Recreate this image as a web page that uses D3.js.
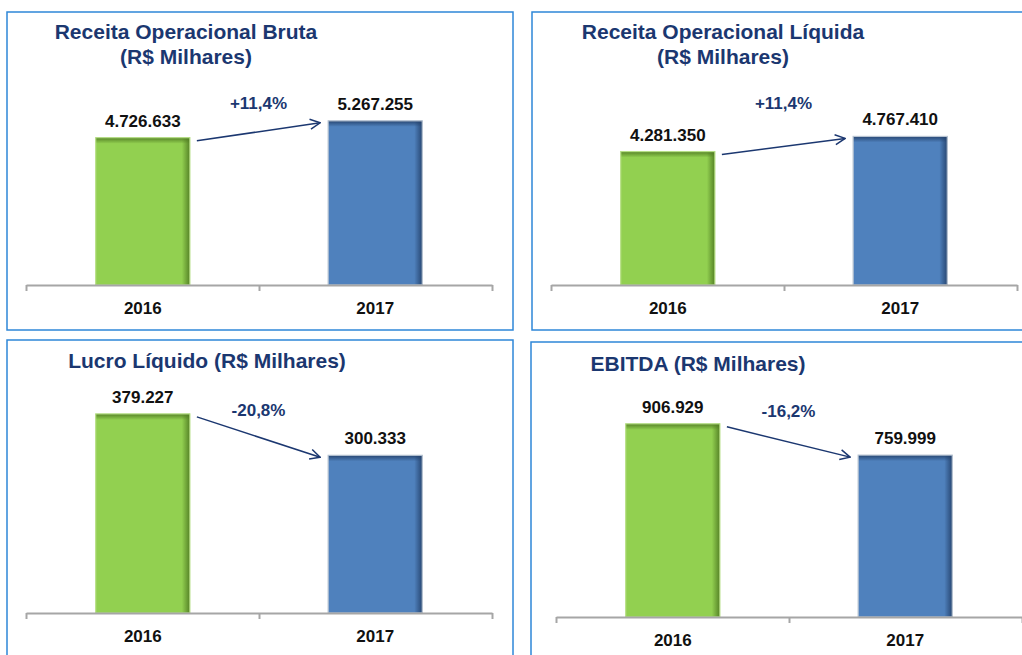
<!DOCTYPE html>
<html>
<head>
<meta charset="utf-8">
<script src="https://cdn.jsdelivr.net/npm/d3@7"></script>
<style>
  body { margin: 0; background: #fff; }
  svg { display: block; font-family: "Liberation Sans", Arial, sans-serif; }
</style>
</head>
<body>
<div id="chart"></div>
<script>
// data
var years = ['2016', '2017'];
var titles = [
    ['Receita Operacional Bruta', '(R$ Milhares)'],
    ['Receita Operacional Líquida', '(R$ Milhares)'],
    ['Lucro Líquido (R$ Milhares)'],
    ['EBITDA (R$ Milhares)']
];
var values2016 = [4726633, 4281350, 379227, 906929];
var values2017 = [5267255, 4767410, 300333, 759999];
var changes = ['+11,4%', '+11,4%', '-20,8%', '-16,2%'];
var yMax = [6000000, 6000000, 400000, 1000000];

// panel layout (boxes, plot areas, title positions)
var panels = [
    {box: [7, 12, 506, 318], x0: 26, x1: 492, base: 285, top: 98, tx: 186, ty: 39},
    {box: [532, 12, 520, 318], x0: 551, x1: 1017, base: 285, top: 98, tx: 723, ty: 39},
    {box: [7, 340, 506, 330], x0: 26, x1: 492, base: 613, top: 403, tx: 207, ty: 368},
    {box: [531, 342, 520, 330], x0: 556, x1: 1022, base: 617, top: 404, tx: 698, ty: 371}
];

var navy = '#1b3770';
var barColors = {'2016': '#92d050', '2017': '#4f81bd'};
var edgeColors = {'2016': '#4f7a22', '2017': '#23406a'};
var rimColors = {'2016': '#b5de85', '2017': '#b8c4d2'};

var width = 1022, height = 655;

var svg = d3.select("#chart")
    .append("svg")
    .attr("width", width)
    .attr("height", height);

var defs = svg.append("defs");

// gradients for the darker inner edges of the bars
years.forEach(function(yr){
    var gr = defs.append("linearGradient").attr("id", "right" + yr)
        .attr("x1", "0").attr("x2", "1").attr("y1", "0").attr("y2", "0");
    gr.append("stop").attr("offset", "0%").attr("stop-color", edgeColors[yr]).attr("stop-opacity", 0);
    gr.append("stop").attr("offset", "100%").attr("stop-color", edgeColors[yr]).attr("stop-opacity", 0.9);

    var gt = defs.append("linearGradient").attr("id", "top" + yr)
        .attr("x1", "0").attr("x2", "0").attr("y1", "0").attr("y2", "1");
    gt.append("stop").attr("offset", "0%").attr("stop-color", edgeColors[yr]).attr("stop-opacity", 0.9);
    gt.append("stop").attr("offset", "100%").attr("stop-color", edgeColors[yr]).attr("stop-opacity", 0);
});

defs.append("marker")
    .attr("id", "arrowhead")
    .attr("viewBox", "0 0 12 12")
    .attr("refX", 11).attr("refY", 6)
    .attr("markerWidth", 12).attr("markerHeight", 12)
    .attr("markerUnits", "userSpaceOnUse")
    .attr("orient", "auto")
    .append("path")
    .attr("d", "M1,1 L11,6 L1,11")
    .attr("fill", "none")
    .attr("stroke", navy)
    .attr("stroke-width", 1.5);

panels.forEach(function(p, i){
    drawPanel(p, i);
});

function fmt(v){
    return d3.format(",")(v).replace(/,/g, ".");
}

function drawPanel(p, i){
    var g = svg.append("g");

    // frame
    g.append("rect")
        .attr("x", p.box[0]).attr("y", p.box[1])
        .attr("width", p.box[2]).attr("height", p.box[3])
        .attr("fill", "none")
        .attr("stroke", "#2e87d8")
        .attr("stroke-width", 1.5);

    // title
    var title = g.append("text")
        .attr("x", p.tx).attr("y", p.ty)
        .attr("text-anchor", "middle")
        .style("font-size", "21px")
        .style("font-weight", "bold")
        .style("fill", navy);
    titles[i].forEach(function(line, k){
        title.append("tspan")
            .attr("x", p.tx)
            .attr("dy", k == 0 ? 0 : 25)
            .text(line);
    });

    var data = [
        {year: years[0], value: values2016[i]},
        {year: years[1], value: values2017[i]}
    ];

    var x = d3.scaleBand()
        .domain(years)
        .range([p.x0, p.x1])
        .paddingInner(0.595)
        .paddingOuter(0.3);

    var y = d3.scaleLinear()
        .domain([0, yMax[i]])
        .range([p.base, p.top]);

    // bars
    var bars = g.selectAll(".bar")
        .data(data)
        .enter()
        .append("g");

    bars.append("rect")
        .attr("x", function(d){ return x(d.year); })
        .attr("y", function(d){ return y(d.value); })
        .attr("width", x.bandwidth())
        .attr("height", function(d){ return y(0) - y(d.value); })
        .attr("fill", function(d){ return barColors[d.year]; });

    bars.append("rect")
        .attr("x", function(d){ return x(d.year) + x.bandwidth() - 8; })
        .attr("y", function(d){ return y(d.value); })
        .attr("width", 8)
        .attr("height", function(d){ return y(0) - y(d.value); })
        .attr("fill", function(d){ return "url(#right" + d.year + ")"; });

    bars.append("rect")
        .attr("x", function(d){ return x(d.year); })
        .attr("y", function(d){ return y(d.value); })
        .attr("width", x.bandwidth())
        .attr("height", 6)
        .attr("fill", function(d){ return "url(#top" + d.year + ")"; });

    bars.append("rect")
        .attr("x", function(d){ return x(d.year); })
        .attr("y", function(d){ return y(d.value); })
        .attr("width", x.bandwidth())
        .attr("height", function(d){ return y(0) - y(d.value); })
        .attr("fill", "none")
        .attr("stroke", function(d){ return rimColors[d.year]; })
        .attr("stroke-width", 1.2);

    // value labels
    g.selectAll(".val")
        .data(data)
        .enter()
        .append("text")
        .attr("x", function(d){ return x(d.year) + x.bandwidth() / 2; })
        .attr("y", function(d){ return y(d.value) - 11; })
        .attr("text-anchor", "middle")
        .style("font-size", "17px")
        .style("font-weight", "bold")
        .style("fill", "#111")
        .text(function(d){ return fmt(d.value); });

    // axis line with ticks at the category edges
    var edge = d3.scaleLinear().domain([0, 2]).range([p.x0, p.x1]);
    var axis = g.append("g")
        .attr("transform", "translate(0," + p.base + ")")
        .call(d3.axisBottom(edge).tickValues([0, 1, 2]).tickSize(6).tickSizeOuter(0).tickFormat(""));
    axis.select(".domain").attr("stroke", "#a6a6a6").attr("stroke-width", 2);
    axis.selectAll(".tick line").attr("stroke", "#a6a6a6").attr("stroke-width", 2);

    // year labels
    g.selectAll(".yr")
        .data(years)
        .enter()
        .append("text")
        .attr("x", function(d){ return x(d) + x.bandwidth() / 2; })
        .attr("y", p.base + 29)
        .attr("text-anchor", "middle")
        .style("font-size", "17px")
        .style("font-weight", "bold")
        .style("fill", "#111")
        .text(function(d){ return d; });

    // change arrow and percentage
    var xa = x(years[0]) + x.bandwidth() + 7;
    var ya = y(values2016[i]) + 3;
    var xb = x(years[1]) - 8;
    var yb = y(values2017[i]) + 2;
    g.append("line")
        .attr("x1", xa).attr("y1", ya)
        .attr("x2", xb).attr("y2", yb)
        .attr("stroke", navy)
        .attr("stroke-width", 1.5)
        .attr("marker-end", "url(#arrowhead)");

    g.append("text")
        .attr("x", (xa + xb) / 2)
        .attr("y", y(yMax[i] * 0.94))
        .attr("text-anchor", "middle")
        .style("font-size", "17px")
        .style("font-weight", "bold")
        .style("fill", navy)
        .text(changes[i]);
}
</script>
</body>
</html>
